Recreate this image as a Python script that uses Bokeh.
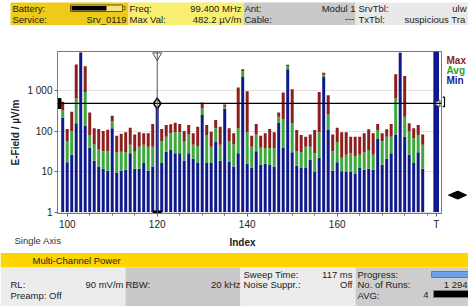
import math
from bokeh.plotting import figure
from bokeh.layouts import column, row
from bokeh.models import Range1d, FixedTicker, Span, ColumnDataSource
from bokeh.embed import file_html
from bokeh.resources import INLINE
from bokeh.core.properties import value

# ---------------- data ----------------
index = list(range(99, 180))
max_val = [530, 113, 300, 4450, 8900, 4040, 290, 117, 113, 100, 108, 239, 77, 86, 94, 121, 83, 94, 88, 88, 149,
           470, 113, 141, 147, 161, 149, 100, 141, 88, 128, 510, 141, 97, 187, 128, 455, 117, 88, 1190, 3360,
           970, 77, 149, 77, 88, 113, 94, 290, 900, 4380, 1080, 106, 80, 73, 83, 106, 930, 2790, 770, 83,
           121, 94, 94, 73, 73, 73, 88, 111, 88, 149, 88, 111, 149, 2530, 8800, 2300, 156, 117, 141, 83]
avg_val = [330, 55, 100, 640, 8700, 930, 80, 47, 36, 32, 32, 177, 30, 31, 30, 46, 31, 41, 46, 41, 41,
           420, 57, 73, 88, 94, 94, 55, 83, 46, 43, 363, 80, 41, 117, 46, 398, 55, 47, 117, 3000,
           94, 41, 83, 39, 38, 38, 38, 226, 198, 4040, 156, 32, 30, 41, 41, 28.5, 94, 2490, 259, 32,
           53, 22, 26, 28.5, 24.4, 26, 30, 34, 26, 106, 57, 73, 73, 640, 8650, 226, 100, 67, 80, 46]
min_val = [213, 17, 26, 156, 8500, 133, 39, 18.4, 13.3, 11.7, 10.5, 117, 9.2, 10.5, 11.1, 28.5, 11.7, 11.7, 16.2, 10.5, 13.3,
           360, 16.2, 31, 34, 28.5, 28.5, 18.7, 28.5, 20.6, 16.2, 249, 16.2, 16.2, 55, 18.4, 355, 17.7, 13.3, 28.5, 2170,
           15.6, 12.6, 32, 14.7, 15.6, 14.7, 13.3, 164, 38, 3360, 30, 13.9, 12.2, 12.2, 19.5, 10, 22, 2170, 106, 10.5,
           17.1, 10.2, 10, 10, 8.7, 12.6, 11.1, 11.7, 11.1, 64, 14.7, 20.6, 28.5, 83, 8500, 73, 26, 16.2, 30, 11.7]
total_index = 182
total_label = "T"
total_val = 9300
marker_index = 120
marker_level = 482.2
y_ticks = [1, 10, 100, 1000]
y_tick_labels = ["1", "10", "100", "1 000"]
x_ticks = [100, 120, 140, 160]
x_minor = [100, 105, 110, 115, 120, 125, 130, 135, 140, 145, 150, 155, 160, 165, 170, 175, 180]
legend_names = ["Max", "Avg", "Min"]

header_row1 = ["Battery:", "Freq:", "Ant:", "SrvTbl:"]
header_row1_vals = ["99.400 MHz", "Modul 1", "ulw"]
header_row2 = ["Service:", "Max Val:", "Cable:", "TxTbl:"]
header_row2_vals = ["Srv_0119", "482.2 µV/m", "---"]
header_tx = "suspicious Tra"
footer_title = "Multi-Channel Power"
footer_left = ["Sweep Time:", "Progress:", "RL:", "RBW:", "Noise Suppr.:", "No. of Runs:", "Preamp: Off", "AVG:"]
footer_vals = ["117 ms", "90 mV/m", "20 kHz", "Off", "1 294", "4"]

C_MAX = "#8c1e1e"
C_AVG = "#3ca83c"
C_MIN = "#10198c"
FONT = value("Liberation Sans")
TXT = "#222222"

W = 468

def blank(width, height, xr, yr):
    f = figure(width=width, height=height, x_range=Range1d(*xr), y_range=Range1d(yr[1], yr[0]),
               output_backend="svg", toolbar_location=None, min_border=0)
    f.axis.visible = False
    f.grid.visible = False
    f.outline_line_color = None
    f.background_fill_color = "white"
    f.border_fill_color = "white"
    return f

def texts(f, xs, ys, t, align, size="9.5px", color=TXT, style="normal"):
    f.text(x=xs, y=ys, text=t, text_align=align, text_baseline="middle",
           text_font=FONT, text_font_size=size, text_color=color, text_font_style=style)

# ---------------- header (page y 0..47) ----------------
h = blank(W, 47, (0, W), (0, 47))
h.quad(left=[10, 128, 243, 355], right=[128, 243, 355, 468], top=[2] * 4, bottom=[24.5] * 4,
       fill_color=["#EECB1A", "#F8EE72", "#C8C8C8", "#E9E9E9"], line_color=None)
r1, r2 = 7.5, 18.5
texts(h, [12, 129, 244, 358], [r1] * 4, header_row1, "left")
texts(h, [12, 129, 244, 358], [r2] * 4, header_row2, "left")
texts(h, [241, 355, 466], [r1] * 3, header_row1_vals, "right")
texts(h, [126, 241, 354], [r2] * 3, header_row2_vals, "right")
texts(h, [404], [r2], [header_tx], "left")
# battery icon
h.quad(left=[70], right=[122], top=[4.5], bottom=[11], fill_color="#F6E27A", line_color="#6b5500", line_width=1)
h.quad(left=[71], right=[106], top=[5.5], bottom=[10], fill_color="black", line_color=None)
h.quad(left=[122], right=[124.5], top=[6.2], bottom=[9.3], fill_color="#F6E27A", line_color="#6b5500")

# ---------------- main chart (page y 47..232, x 0..442) ----------------
x0, x1 = 97.84, 183.18
y0, y1 = 0.919, 9290
p = figure(width=442, height=185, x_range=Range1d(x0, x1), y_range=Range1d(y0, y1), y_axis_type="log",
           output_backend="svg", toolbar_location=None,
           min_border_left=57, min_border_right=1, min_border_top=4, min_border_bottom=18)
p.background_fill_color = "white"
p.border_fill_color = "white"
p.outline_line_color = "#7a7a7a"

src = ColumnDataSource(dict(x=index, mx=max_val, av=avg_val, mn=min_val, base=[1] * len(index)))
bw = 0.66
p.vbar(x="x", width=bw, bottom="base", top="mn", source=src, fill_color=C_MIN, line_color=None)
p.vbar(x="x", width=bw, bottom="mn", top="av", source=src, fill_color=C_AVG, line_color=None)
p.vbar(x="x", width=bw, bottom="av", top="mx", source=src, fill_color=C_MAX, line_color=None)
p.vbar(x=[total_index], width=1.25, bottom=[1], top=[total_val], fill_color=C_MIN, line_color=None)

p.xgrid.visible = False
p.ygrid.ticker = FixedTicker(ticks=y_ticks)
p.ygrid.grid_line_color = "#e2e2e2"

p.yaxis.ticker = FixedTicker(ticks=y_ticks, minor_ticks=[])
p.yaxis.major_label_overrides = dict(zip(y_ticks, y_tick_labels))
p.yaxis.axis_label = "E-Field / µV/m"
p.xaxis.ticker = FixedTicker(ticks=x_ticks + [total_index], minor_ticks=x_minor)
p.xaxis.major_label_overrides = {total_index: total_label}
for ax in (p.xaxis[0], p.yaxis[0]):
    ax.axis_line_color = "#7a7a7a"
    ax.major_tick_line_color = "#666666"
    ax.minor_tick_line_color = "#666666"
    ax.major_tick_out = 3
    ax.major_tick_in = 0
    ax.minor_tick_out = 2
    ax.minor_tick_in = 0
    ax.major_label_text_font = "Liberation Sans"
    ax.major_label_text_font_size = "10px"
    ax.major_label_text_color = TXT
    ax.major_label_standoff = 2
    ax.axis_label_text_font = "Liberation Sans"
    ax.axis_label_text_font_size = "10px"
    ax.axis_label_text_font_style = "bold"
    ax.axis_label_text_color = TXT
    ax.axis_label_standoff = 3

p.add_layout(Span(location=marker_level, dimension="width", line_color="black", line_width=1.2))
p.add_layout(Span(location=marker_index, dimension="height", line_color="#555555", line_width=1))
top_y = 10 ** (math.log10(y1) - 4.0 / 40.7)
p.scatter(x=[marker_index], y=[top_y], marker="inverted_triangle", size=9, fill_color="white", line_color="#555555")
p.scatter(x=[marker_index], y=[marker_level], marker="diamond", size=11, fill_color="white", line_color="black", line_width=1.5)
p.rect(x=[marker_index], y=[y0], width=8, height=5, width_units="screen", height_units="screen",
       fill_color="black", line_color="black")
p.rect(x=[x0], y=[marker_level], width=7, height=10, width_units="screen", height_units="screen",
       fill_color="black", line_color="black")
p.scatter(x=[x1 - 0.8], y=[marker_level], marker="triangle", angle=math.pi / 2, size=7,
          fill_color="white", line_color="#555555")

# ---------------- right side strip (page x 442..468) ----------------
s = blank(26, 185, (442, 468), (47, 232))
leg_colors = [C_MAX, "#2f9e2f", "#1a1a9a"]
texts(s, [446] * 3, [57, 68.5, 80], legend_names, "left", size="10px", style="bold", color=leg_colors)
s.multi_line(xs=[[442, 444, 444, 442]], ys=[[99, 99, 110, 110]], line_color="black", line_width=1.2)
s.patches(xs=[[457, 457, 448], [457.5, 457.5, 466]], ys=[[206.5, 215.5, 211], [206.5, 215.5, 211]],
          fill_color="black", line_color="black")

# ---------------- footer (page y 232..306) ----------------
f = blank(W, 74, (0, W), (232, 306))
texts(f, [14], [240], ["Single Axis"], "left", color="#333333")
texts(f, [242], [242], ["Index"], "center", size="10px", style="bold")
f.quad(left=[0], right=[468], top=[252.5], bottom=[267], fill_color="#FFD500", line_color=None)
texts(f, [32], [259.5], [footer_title], "left")
f.quad(left=[0, 125, 240, 355], right=[125, 240, 355, 468], top=[267] * 4, bottom=[306] * 4,
       fill_color=["#ECECEC", "#C9C9C9", "#ECECEC", "#CDCDCD"], line_color=None)
ra, rb, rc = 274, 284, 294.5
texts(f, [243, 357, 10, 125, 243, 357, 10, 357],
      [ra, ra, rb, rb, rb, rb, rc, rc], footer_left, "left")
texts(f, [352, 123, 240, 352, 467, 428], [ra, rb, rb, rb, rb, rc], footer_vals, "right")
f.quad(left=[431], right=[470], top=[271], bottom=[277], fill_color="#6E9FEA", line_color="#7a7a7a")
f.quad(left=[433], right=[470], top=[290], bottom=[297], fill_color="black", line_color="#7a7a7a")

layout = column(h, row(p, s, spacing=0), f, spacing=0)
open("out.html", "w").write(file_html(layout, INLINE))
